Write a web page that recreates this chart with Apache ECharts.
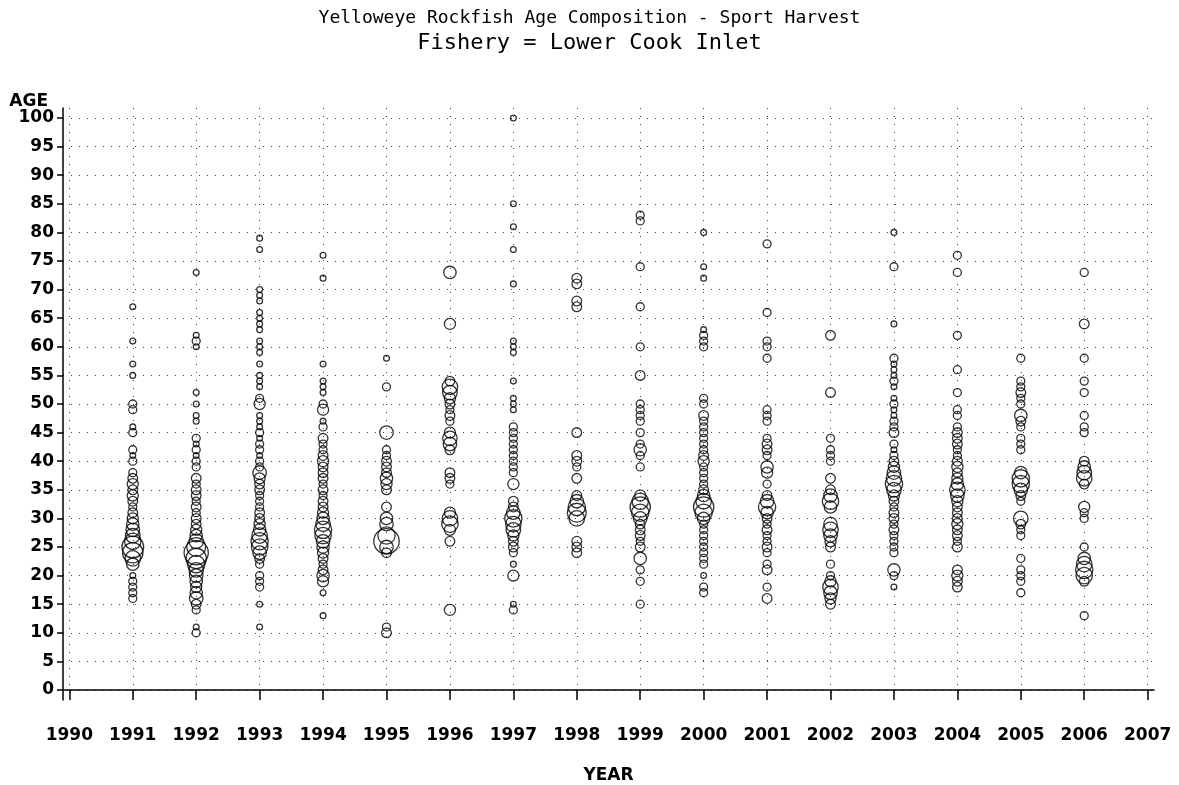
<!DOCTYPE html>
<html>
<head>
<meta charset="utf-8">
<title>Yelloweye Rockfish Age Composition</title>
<script src="https://cdn.jsdelivr.net/npm/echarts@6/dist/echarts.min.js"></script>
<style>
  html, body { margin: 0; padding: 0; background: #fff; }
  #chart { width: 1179px; height: 785px; }
</style>
</head>
<body>
<div id="chart"></div>
<script>
// ages sampled per year: [age, count]
const age1991 = [[67,1],[61,1],[57,1],[55,1],[50,2],[49,2],[46,1],[45,2],[42,2],[41,1],[40,2],[38,2],[37,3],[36,4],[35,3],[34,4],[33,3],[32,2],[31,3],[30,4],[29,5],[28,6],[27,7],[26,9],[25,16],[24,14],[23,8],[22,5],[20,1],[19,2],[18,2],[17,2],[16,2]];
const age1992 = [[73,1],[62,1],[61,2],[60,1],[52,1],[50,1],[48,1],[47,1],[44,2],[43,1],[42,2],[41,1],[40,2],[39,2],[37,3],[36,2],[35,3],[34,3],[33,2],[32,3],[31,2],[30,3],[29,3],[28,4],[27,5],[26,7],[25,12],[24,20],[23,14],[22,10],[21,7],[20,6],[19,5],[18,4],[17,5],[16,6],[15,3],[14,2],[11,1],[10,2]];
const age1993 = [[79,1],[77,1],[70,1],[69,1],[68,1],[66,1],[65,1],[64,1],[63,1],[61,1],[60,1],[59,1],[57,1],[55,1],[54,1],[53,1],[51,2],[50,4],[48,1],[47,1],[46,1],[45,2],[44,1],[43,2],[42,2],[41,1],[40,2],[39,2],[38,6],[37,4],[36,3],[35,3],[34,2],[33,2],[32,2],[31,3],[30,3],[29,4],[28,5],[27,8],[26,10],[25,9],[24,6],[23,3],[22,2],[20,2],[19,2],[18,2],[15,1],[11,1]];
const age1994 = [[76,1],[72,1],[57,1],[54,1],[53,1],[52,1],[50,2],[49,4],[47,1],[46,2],[44,3],[43,2],[42,2],[41,3],[40,4],[39,3],[38,3],[37,3],[36,2],[35,3],[34,2],[33,3],[32,3],[31,4],[30,5],[29,7],[28,10],[27,9],[26,6],[25,5],[24,4],[23,3],[22,2],[21,3],[20,5],[19,4],[17,1],[13,1]];
const age1995 = [[58,1],[53,2],[45,6],[42,2],[41,2],[40,3],[39,3],[38,3],[37,5],[36,4],[35,3],[32,3],[30,5],[29,6],[27,10],[26,22],[25,6],[24,3],[11,2],[10,3]];
const age1996 = [[73,5],[64,4],[54,3],[53,8],[52,7],[51,4],[50,3],[49,2],[48,3],[47,2],[45,4],[44,7],[43,6],[42,3],[38,3],[37,3],[36,2],[31,4],[30,8],[29,9],[28,4],[26,3],[14,4]];
const age1997 = [[100,1],[85,1],[81,1],[77,1],[71,1],[61,1],[60,1],[59,1],[54,1],[51,1],[50,1],[49,1],[46,2],[45,2],[44,2],[43,2],[42,2],[41,2],[40,2],[39,2],[38,2],[36,4],[33,3],[32,3],[31,6],[30,10],[29,8],[28,7],[27,4],[26,3],[25,3],[24,2],[22,1],[20,4],[15,1],[14,2]];
const age1998 = [[72,3],[71,3],[68,3],[67,3],[45,3],[41,3],[40,3],[39,2],[37,3],[34,3],[33,6],[32,10],[31,12],[30,8],[26,3],[25,3],[24,3]];
const age1999 = [[83,2],[82,2],[74,2],[67,2],[60,2],[55,3],[50,2],[49,2],[48,2],[47,2],[45,2],[43,2],[42,5],[41,2],[39,2],[34,4],[33,9],[32,14],[31,10],[30,6],[29,3],[28,3],[27,3],[26,2],[25,3],[23,5],[21,2],[19,2],[15,2]];
const age2000 = [[80,1],[74,1],[72,1],[63,1],[62,2],[61,2],[60,2],[51,2],[50,2],[48,3],[47,2],[46,2],[45,2],[44,2],[43,2],[42,2],[41,3],[40,4],[39,2],[38,2],[37,2],[36,2],[35,3],[34,5],[33,8],[32,14],[31,10],[30,5],[29,2],[28,2],[27,2],[26,2],[25,2],[24,2],[23,2],[22,2],[20,1],[18,2],[17,2]];
const age2001 = [[78,2],[66,2],[61,2],[60,2],[58,2],[49,2],[48,2],[47,2],[44,2],[43,3],[42,3],[41,2],[39,5],[38,4],[36,2],[34,3],[33,6],[32,10],[31,5],[30,3],[29,2],[28,3],[27,2],[26,2],[25,3],[24,2],[22,2],[21,3],[18,2],[16,3]];
const age2002 = [[62,3],[52,3],[44,2],[42,2],[41,2],[40,2],[37,3],[35,3],[34,6],[33,9],[32,5],[29,6],[28,8],[27,6],[26,4],[25,3],[22,2],[20,2],[19,4],[18,8],[17,6],[16,4],[15,3]];
const age2003 = [[80,1],[74,2],[64,1],[58,2],[57,1],[56,1],[55,1],[54,2],[53,1],[51,1],[50,2],[49,1],[48,1],[47,2],[46,2],[45,3],[43,2],[42,1],[41,2],[40,3],[39,4],[38,6],[37,8],[36,10],[35,7],[34,4],[33,3],[32,2],[31,3],[30,3],[29,2],[28,3],[27,2],[26,2],[25,2],[24,2],[21,5],[20,2],[18,1]];
const age2004 = [[76,2],[73,2],[62,2],[56,2],[52,2],[49,2],[48,2],[46,2],[45,3],[44,3],[43,3],[42,2],[41,2],[40,3],[39,4],[38,3],[37,4],[36,5],[35,8],[34,6],[33,4],[32,3],[31,3],[30,3],[29,4],[28,3],[27,3],[26,2],[25,3],[21,3],[20,4],[19,3],[18,3]];
const age2005 = [[58,2],[54,2],[53,2],[52,3],[51,2],[50,2],[48,5],[47,3],[46,2],[44,2],[43,2],[42,2],[38,5],[37,10],[36,10],[35,6],[34,3],[33,2],[30,7],[29,3],[28,2],[27,2],[23,2],[21,2],[20,2],[19,2],[17,2]];
const age2006 = [[73,2],[64,3],[58,2],[54,2],[52,2],[48,2],[46,2],[45,2],[40,3],[39,5],[38,7],[37,8],[36,3],[32,4],[31,2],[30,2],[25,2],[23,5],[22,8],[21,10],[20,9],[19,3],[13,2]];

const sampleYears = [1991,1992,1993,1994,1995,1996,1997,1998,1999,2000,2001,2002,2003,2004,2005,2006];
const yearRows = [age1991,age1992,age1993,age1994,age1995,age1996,age1997,age1998,age1999,age2000,age2001,age2002,age2003,age2004,age2005,age2006];

const xTicks = [1990,1991,1992,1993,1994,1995,1996,1997,1998,1999,2000,2001,2002,2003,2004,2005,2006,2007];
const yTicks = [0,5,10,15,20,25,30,35,40,45,50,55,60,65,70,75,80,85,90,95,100];

// flatten to [year, age, count]
const points = [];
sampleYears.forEach(function (yr, i) {
  yearRows[i].forEach(function (p) { points.push([yr, p[0], p[1]]); });
});

const axisFont = { fontFamily: 'DejaVu Sans', fontWeight: 'bold', fontSize: 17, color: '#000' };
const gridDots = { color: '#444', width: 1, type: [1, 7] };

const chart = echarts.init(document.getElementById('chart'), null, { renderer: 'canvas' });
chart.setOption({
  backgroundColor: '#fff',
  animation: false,
  title: [
    {
      text: 'Yelloweye Rockfish Age Composition - Sport Harvest',
      left: 'center', top: 4,
      textStyle: { fontFamily: 'DejaVu Sans Mono', fontWeight: 'normal', fontSize: 18, color: '#000' }
    },
    {
      text: 'Fishery = Lower Cook Inlet',
      left: 'center', top: 27,
      textStyle: { fontFamily: 'DejaVu Sans Mono', fontWeight: 'normal', fontSize: 22, color: '#000' }
    }
  ],
  grid: { left: 63, right: 25, top: 108, bottom: 85, outerBoundsMode: 'none' },
  xAxis: {
    type: 'value',
    min: 1989.9, max: 2007.1,
    name: 'YEAR', nameLocation: 'middle', nameGap: 67,
    nameTextStyle: axisFont,
    axisLine: { show: true, lineStyle: { color: '#000', width: 1.5 } },
    axisTick: { show: true, length: 10, lineStyle: { color: '#000', width: 1.5 }, customValues: xTicks },
    axisLabel: Object.assign({
      margin: 27,
      customValues: xTicks,
      formatter: function (v) { return String(Math.round(v)); }
    }, axisFont),
    splitLine: { show: true, lineStyle: gridDots }
  },
  yAxis: {
    type: 'value',
    min: -1.75, max: 101.75,
    name: 'AGE', nameLocation: 'end', nameGap: -3,
    nameTextStyle: Object.assign({ align: 'right', padding: [0, 15, 0, 0] }, axisFont),
    axisLine: { show: true, lineStyle: { color: '#000', width: 1.5 } },
    axisTick: { show: true, length: 6, lineStyle: { color: '#000', width: 1.5 }, customValues: yTicks },
    axisLabel: Object.assign({ margin: 9, customValues: yTicks }, axisFont),
    splitLine: { show: true, lineStyle: gridDots }
  },
  series: [{
    type: 'scatter',
    data: points,
    symbol: 'circle',
    symbolSize: function (v) { return 5.3 * Math.sqrt(v[2]) + 0.5; },
    itemStyle: { color: 'rgba(255,255,255,0)', borderColor: '#000', borderWidth: 1.3 }
  }]
});
</script>
</body>
</html>
